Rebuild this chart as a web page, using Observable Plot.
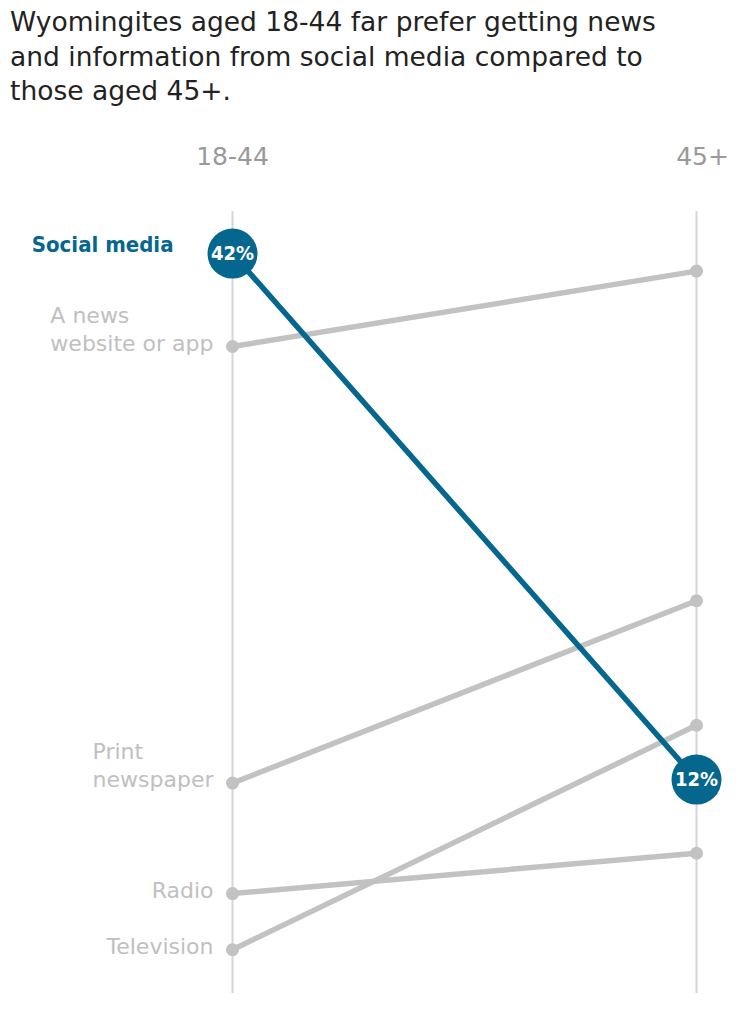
<!DOCTYPE html>
<html>
<head>
<meta charset="utf-8">
<script src="https://cdn.jsdelivr.net/npm/d3@7"></script>
<script src="https://cdn.jsdelivr.net/npm/@observablehq/plot@0.6"></script>
<style>
  html, body { margin: 0; padding: 0; background: #fff; }
  #title {
    box-sizing: border-box;
    height: 118px;
    padding: 5px 0 0 10px;
    font-family: "DejaVu Sans", sans-serif;
    font-size: 26.5px;
    line-height: 34.5px;
    color: #222;
    white-space: nowrap;
  }
</style>
</head>
<body>
<div id="title">Wyomingites aged 18-44 far prefer getting news<br>and information from social media compared to<br>those aged 45+.</div>
<div id="chart"></div>
<script>
const categories = ["Social media", "A news website or app", "Print newspaper", "Radio", "Television"];
const labels = ["Social media", "A news\nwebsite or app", "Print\nnewspaper", "Radio", "Television"];
const ageGroups = ["18-44", "45+"];
const share1844 = [42, 36.7, 11.8, 5.5, 2.3];
const share45plus = [12, 41, 22.2, 7.8, 15.1];
const highlighted = "Social media";

const BLUE = "#05678e";
const GRAY = "#c2c2c2";
const COND = "DejaVu Sans Condensed, DejaVu Sans, sans-serif";

const rows = categories.flatMap((c, i) => [
  {category: c, label: labels[i], age: ageGroups[0], value: share1844[i]},
  {category: c, label: labels[i], age: ageGroups[1], value: share45plus[i]}
]);
const grayRows = rows.filter(d => d.category !== highlighted);
const hlRows = rows.filter(d => d.category === highlighted);

const H = 1012 - 118;

const chart = Plot.plot({
  width: 740,
  height: H,
  marginLeft: 232,
  marginRight: 44,
  marginTop: 93,
  marginBottom: 19,
  x: {type: "point", domain: ageGroups, padding: 0, axis: null},
  y: {domain: [-0.2, 44.4], axis: null},
  style: {fontFamily: "DejaVu Sans, sans-serif", background: "#fff", overflow: "visible"},
  marks: [
    Plot.ruleX(ageGroups, {x: d => d, stroke: "#d5d5d5", strokeWidth: 2}),
    Plot.line(grayRows, {x: "age", y: "value", z: "category", stroke: GRAY, strokeWidth: 5.5}),
    Plot.dot(grayRows, {x: "age", y: "value", r: 6.5, fill: GRAY}),
    Plot.line(hlRows, {x: "age", y: "value", z: "category", stroke: BLUE, strokeWidth: 5.5}),
    Plot.dot(hlRows, {x: "age", y: "value", r: 25, fill: BLUE}),
    Plot.text(hlRows, {x: "age", y: "value", text: d => `${Math.round(d.value)}%`, fill: "#fff", fontSize: 20, fontWeight: 600, fontFamily: COND}),
    Plot.text(grayRows.filter(d => d.age === ageGroups[0]), {
      x: "age", y: "value", text: "label", textAnchor: "end", lineAnchor: "bottom",
      dx: -19, dy: 4, fill: "#c0c0c0", fontSize: 22, lineHeight: 1.27
    }),
    Plot.text(hlRows.filter(d => d.age === ageGroups[0]), {
      x: "age", y: "value", text: "label", textAnchor: "end", lineAnchor: "bottom",
      dx: -59, dy: -2, fill: BLUE, fontSize: 22, fontWeight: "bold", fontFamily: COND
    }),
    Plot.text([ageGroups[0]], {x: d => d, frameAnchor: "top", dy: -64, fontSize: 25, fill: "#999"}),
    Plot.text([ageGroups[1]], {x: d => d, frameAnchor: "top", dy: -64, dx: 6, fontSize: 25, fill: "#999"})
  ]
});
document.getElementById("chart").appendChild(chart);

// left-align multi-line labels while keeping their right edge at the anchor
chart.querySelectorAll("text").forEach(t => {
  const spans = t.querySelectorAll("tspan");
  if (spans.length < 2) return;
  const bb = t.getBBox();
  t.setAttribute("text-anchor", "start");
  spans.forEach(s => s.setAttribute("x", bb.x));
});
</script>
</body>
</html>
